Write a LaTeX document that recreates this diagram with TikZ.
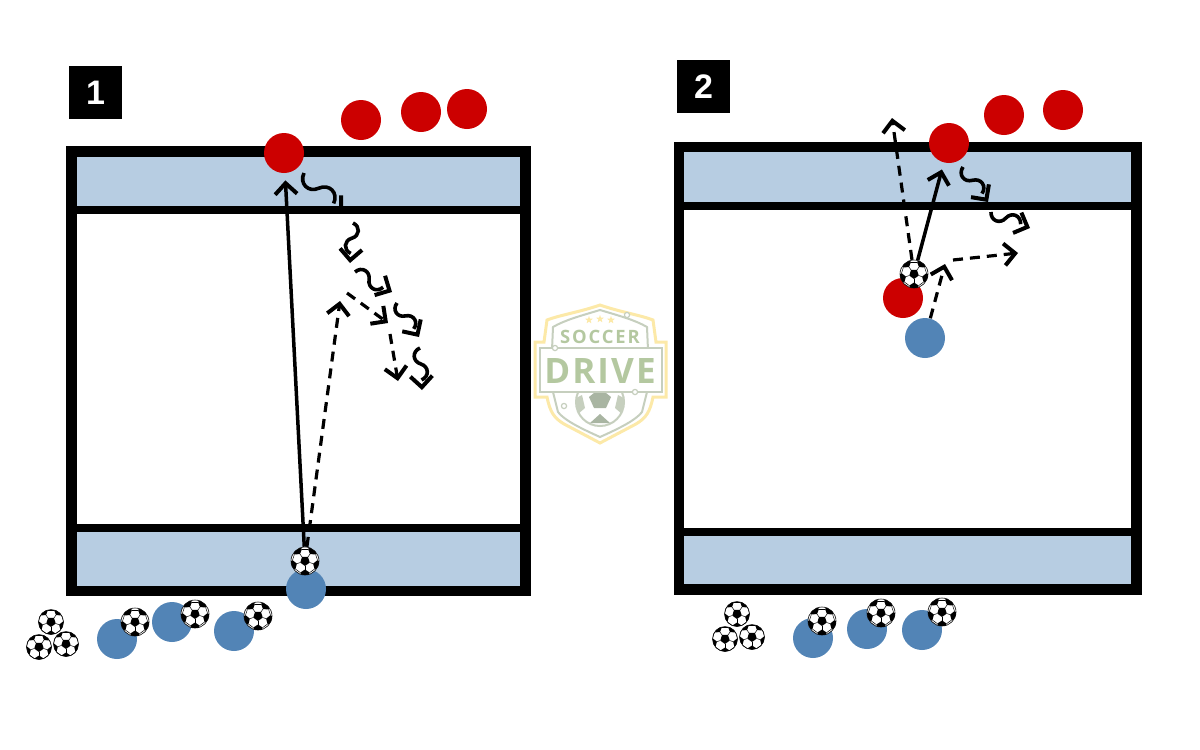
\documentclass[tikz,border=0pt]{standalone}
\usepackage{fontspec}
\setmainfont{Liberation Sans}
\newfontfamily\logofont[LetterSpace=10]{Open Sans}
\newfontfamily\logofontbig[LetterSpace=6]{Open Sans}
\usetikzlibrary{arrows.meta, calc, shapes.geometric}

\definecolor{bandblue}{HTML}{B7CDE2}
\definecolor{redplayer}{HTML}{CC0000}
\definecolor{blueplayer}{HTML}{5284B6}
\definecolor{logoyellow}{HTML}{FCE9A8}
\definecolor{logogreen}{HTML}{B4C8A0}
\definecolor{logogrey}{HTML}{C6CFBE}
\definecolor{logodark}{HTML}{A9B5A2}

\newcommand{\ballmarks}[1]{%
  \begin{scope}[shift={(path picture bounding box.center)}, scale=#1, rotate=25]
    \fill[black] (90:5) -- (162:5) -- (234:5) -- (306:5) -- (18:5) -- cycle;
    \foreach \a in {18,90,162,234,306} {
      \fill[black] (\a:8.5) -- ({\a+22}:12.5) -- ({\a+10}:16.8) -- ({\a-10}:16.8) -- ({\a-22}:12.5) -- cycle;
      \draw[black, line width=.25pt] (\a:5) -- (\a:8.5);
      \draw[black, line width=.25pt] ({\a+22}:12.5) -- ({\a+50}:12.5);
    }
  \end{scope}}

\begin{document}
\begin{tikzpicture}[
  x=.5pt, y=-.5pt,
  frame/.style={line width=5.2pt, draw=black},
  divider/.style={line width=4pt, draw=black},
  band/.style={fill=bandblue},
  numbox/.style={fill=black, text=white, minimum size=26.5pt, inner sep=0pt, font=\fontsize{17}{17}\selectfont\bfseries},
  redman/.style={circle, fill=redplayer, minimum size=20pt, inner sep=0pt},
  blueman/.style={circle, fill=blueplayer, minimum size=20pt, inner sep=0pt},
  ball/.style={circle, fill=white, draw=black, line width=.3pt, minimum size=14pt, inner sep=0pt, path picture={\ballmarks{1}}},
  smallball/.style={circle, fill=white, draw=black, line width=.3pt, minimum size=12.5pt, inner sep=0pt, path picture={\ballmarks{.88}}},
  chevron/.style={-{Straight Barb[length=5.5pt, width=11pt, line width=2pt]}},
  pass/.style={chevron, line width=1.75pt, shorten >=3.5pt},
  run/.style={chevron, line width=1.6pt, dash pattern=on 5pt off 3.5pt},
  wave/.style={line width=1.8pt},
  wavetip/.style={chevron, line width=1.8pt}
]
\useasboundingbox (0,0) rectangle (1200,750);

% panel 1
\fill[band] (71,152) rectangle (525,209);
\fill[band] (71,528) rectangle (525,591);
\draw[divider] (71,209.5) -- (525,209.5);
\draw[divider] (71,528) -- (525,528);
\draw[frame] (71.5,151.5) rectangle (525.5,591);
\node[numbox] (one) at (95.5,92.5) {1};

% panel 2
\fill[band] (679,147) rectangle (1136,206);
\fill[band] (679,532) rectangle (1136,590);
\draw[divider] (679,206) -- (1136,206);
\draw[divider] (679,532) -- (1136,532);
\draw[frame] (679,147) rectangle (1136.5,589.5);
\node[numbox] (two) at (703.5,86.5) {2};

% logo
\draw[logoyellow, line width=1.5pt, fill=white] (600,305) .. controls (620,312) and (640,315) .. (653,320) -- (656,342) -- (666,342) -- (666,397) -- (653,397)
  .. controls (650,412) and (646,418) .. (636,424) -- (600,443) -- (564,424) .. controls (554,418) and (550,412) .. (547,397) -- (535,397) -- (535,342) -- (544,342) -- (547,320) .. controls (560,315) and (580,312) .. (600,305) -- cycle;
\draw[logogrey, line width=1pt] (600,310) .. controls (620,316) and (635,320) .. (647,327) -- (648,350) -- (552,350) -- (553,327) .. controls (565,320) and (580,316) .. (600,310) -- cycle;
\draw[logogrey, line width=1pt] (647,392) -- (642,412) .. controls (636,420) and (620,428) .. (600,437) .. controls (580,428) and (564,420) .. (558,412) -- (553,392);
\node[circle, draw=logogrey, fill=white, line width=1pt, minimum size=24pt, inner sep=0pt] (logoball) at (600,402) {};
\fill[logodark] (600,388) -- (611,397) -- (606,408) -- (594,408) -- (589,397) -- cycle;
\fill[logodark] (600,414) -- (610,423) -- (590,423) -- cycle;
\fill[logogrey] (576,398) -- (582,395) -- (585,408) -- (578,414) -- cycle;
\fill[logogrey] (624,398) -- (618,395) -- (615,408) -- (622,414) -- cycle;
\node[draw=logogrey, fill=white, line width=1pt, minimum width=61pt, minimum height=22pt, inner sep=0pt] (logobox) at (601,370) {};
\node[text=logogreen, font=\logofont\bfseries\fontsize{9.2}{10}\selectfont, inner sep=0pt] (soccer) at (600,337) {SOCCER};
\node[text=logogreen, font=\logofontbig\bfseries\fontsize{17.5}{18}\selectfont, inner sep=0pt] (drive) at (600,371) {DRIVE};
\foreach \name/\x/\y in {stara/589/320, starb/600/319, starc/611/320}
  \node[star, star points=5, star point ratio=2.4, fill=logoyellow, minimum size=4pt, inner sep=0pt] (\name) at (\x,\y) {};
\foreach \name/\x/\y in {dota/627/315, dotb/555/348, dotc/635/392, dotd/564/406}
  \node[circle, draw=logogrey, fill=white, line width=.6pt, minimum size=2.6pt, inner sep=0pt] (\name) at (\x,\y) {};

% players
\foreach \name/\x/\y in {ra/284/153, rb/361/120, rc/421/112, rd/467/109, re/949/143, rf/1004/115, rg/1063/110, rh/903/298}
  \node[redman] (\name) at (\x,\y) {};
\foreach \name/\x/\y in {ba/306/589, bb/117/639, bc/172/622, bd/234/631, be/925/338, bf/813/638, bg/867/629, bh/922/630}
  \node[blueman] (\name) at (\x,\y) {};

% balls
\foreach \name/\x/\y in {fa/305/561, fb/135/622, fc/195/614, fd/258/616, fe/914/274, ff/822/621, fg/881/613, fh/942/612}
  \node[ball] (\name) at (\x,\y) {};
\foreach \name/\x/\y in {pa/51/622, pb/39/647, pc/66/644, pd/737/614, pe/725/639, pf/752/637}
  \node[smallball] (\name) at (\x,\y) {};

% panel 1 runs
\coordinate (rone) at (340,301);
\coordinate (rtwo) at (388,323);
\coordinate (rtwostart) at (347,293);
\coordinate (rthree) at (398,381);
\coordinate (rthreestart) at (390,334);
\draw[pass] (fa) -- (ra);
\draw[run] (fa) -- (rone);
\draw[run] (rtwostart) -- (rtwo);
\draw[run] (rthreestart) -- (rthree);

% panel 2 runs
\coordinate (sa) at (892,118);
\coordinate (sb) at (945,264);
\coordinate (sc) at (953,260);
\coordinate (sd) at (1018,253);
\draw[pass] (fe) -- (re);
\draw[run] (fe) -- (sa);
\draw[run] (be) -- (sb);
\draw[run] (sc) -- (sd);

% dribbles
\coordinate (da) at (304,173);
\coordinate (db) at (343,213);
\coordinate (dc) at (353,223);
\coordinate (dd) at (350,263);
\coordinate (de) at (355,272);
\coordinate (df) at (392,292);
\coordinate (dg) at (397,303);
\coordinate (dh) at (419,337);
\coordinate (di) at (420,348);
\coordinate (dj) at (422,390);
\coordinate (ta) at (963,167);
\coordinate (tb) at (988,202);
\coordinate (tc) at (991,212);
\coordinate (td) at (1030,228);
\foreach \from/\to/\first/\second in {da/db/right/left, dc/dd/left/right, de/df/left/right, dg/dh/right/left, di/dj/right/left, ta/tb/right/left, tc/td/right/left} {
  \draw[wave, bend angle=70, looseness=1.4] (\from) to[bend \first] ($(\from)!.38!(\to)$) to[bend \second] ($(\from)!.76!(\to)$);
  \draw[wavetip] ($(\from)!.88!(\to)$) -- (\to);
}
\end{tikzpicture}
\end{document}
